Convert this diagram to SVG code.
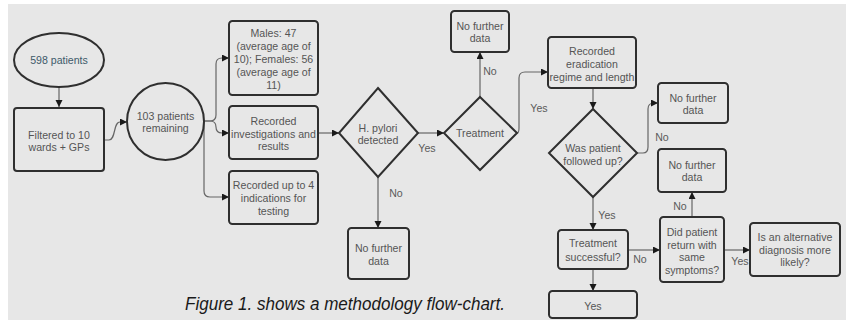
<svg xmlns="http://www.w3.org/2000/svg" width="849" height="320" viewBox="0 0 849 320">
<defs>
<style>
.bg{fill:#e7e7e7}
.box{fill:none;stroke:#2f2f2f;stroke-width:2}
.t{font-family:"Liberation Sans",Arial,sans-serif;font-size:10.6px;fill:#555;text-anchor:middle}
.lbl{font-family:"Liberation Sans",Arial,sans-serif;font-size:10.6px;fill:#5a5a5a;text-anchor:middle}
.c{fill:none;stroke:#666;stroke-width:1.2}
.cap{font-family:"Liberation Sans",Arial,sans-serif;font-style:italic;font-size:19px;fill:#1a1a1a}
</style>
<marker id="ah" markerUnits="userSpaceOnUse" markerWidth="8" markerHeight="8" refX="7" refY="3.5" orient="auto">
<path d="M0,0 L7,3.5 L0,7 z" fill="#1a1a1a"/>
</marker>
</defs>
<rect x="0" y="0" width="849" height="320" fill="#ffffff"/>
<rect class="bg" x="8" y="4" width="838" height="316"/>

<g id="connectors">
<path class="c" d="M59,87 V107" marker-end="url(#ah)"/>
<path class="c" d="M104,140 H109 C116,140 113,122 120,122 H127" marker-end="url(#ah)"/>
<path class="c" d="M204,121 H210 Q216,121 216,115 V64 Q216,58 222,58 H229" marker-end="url(#ah)"/>
<path class="c" d="M204,121 H210 Q216,121 216,127 Q216,133 222,133 H229" marker-end="url(#ah)"/>
<path class="c" d="M204,121 V191 Q204,197 210,197 H229" marker-end="url(#ah)"/>
<path class="c" d="M318,133 H339" marker-end="url(#ah)"/>
<path class="c" d="M418,133 H444" marker-end="url(#ah)"/>
<path class="c" d="M378,177 V228" marker-end="url(#ah)"/>
<path class="c" d="M480,97 V52" marker-end="url(#ah)"/>
<path class="c" d="M517,133 Q519,133 519,128 V78 Q519,72 525,72 H548" marker-end="url(#ah)"/>
<path class="c" d="M593,88 V109" marker-end="url(#ah)"/>
<path class="c" d="M637,153 H643 Q648,153 648,147 V109 Q648,103 654,103 H658" marker-end="url(#ah)"/>
<path class="c" d="M593,197 V230" marker-end="url(#ah)"/>
<path class="c" d="M628,250 H660" marker-end="url(#ah)"/>
<path class="c" d="M692,217 V192" marker-end="url(#ah)"/>
<path class="c" d="M593,269 V291" marker-end="url(#ah)"/>
<path class="c" d="M724,250 H750" marker-end="url(#ah)"/>
<text class="lbl" x="427" y="152">Yes</text>
<text class="lbl" x="396" y="197">No</text>
<text class="lbl" x="490" y="75">No</text>
<text class="lbl" x="539" y="112">Yes</text>
<text class="lbl" x="662" y="141">No</text>
<text class="lbl" x="607" y="219">Yes</text>
<text class="lbl" x="680" y="210">No</text>
<text class="lbl" x="640" y="263">No</text>
<text class="lbl" x="740" y="265">Yes</text>
</g>

<g id="n-598">
<ellipse class="box" cx="59" cy="60" rx="45" ry="27"/>
<text class="t" x="59" y="64" style="fill:#3e5a6a">598 patients</text>
</g>
<g id="n-filtered">
<rect class="box" x="14" y="108" width="90" height="63" rx="3"/>
<text class="t" x="59" y="139">Filtered to 10</text>
<text class="t" x="59" y="151">wards + GPs</text>
</g>
<g id="n-103">
<circle class="box" cx="165.5" cy="121.5" r="38.5"/>
<text class="t" x="165.5" y="120">103 patients</text>
<text class="t" x="165.5" y="132">remaining</text>
</g>
<g id="n-males">
<rect class="box" x="229" y="21" width="89" height="74" rx="3.5"/>
<text class="t" x="273.5" y="37">Males: 47</text>
<text class="t" x="273.5" y="50">(average age of</text>
<text class="t" x="273.5" y="63">10); Females: 56</text>
<text class="t" x="273.5" y="76">(average age of</text>
<text class="t" x="273.5" y="89">11)</text>
</g>
<g id="n-investigations">
<rect class="box" x="229" y="106" width="89" height="53" rx="3.5"/>
<text class="t" x="273.5" y="125">Recorded</text>
<text class="t" x="273.5" y="137.5">investigations and</text>
<text class="t" x="273.5" y="150">results</text>
</g>
<g id="n-indications">
<rect class="box" x="229" y="171" width="89" height="53" rx="3.5"/>
<text class="t" x="273.5" y="189">Recorded up to 4</text>
<text class="t" x="273.5" y="202">indications for</text>
<text class="t" x="273.5" y="215">testing</text>
</g>
<g id="n-hpylori">
<polygon class="box" points="378,88 418,133 378,177 339,133"/>
<text class="t" x="378" y="131.5">H. pylori</text>
<text class="t" x="378" y="144">detected</text>
</g>
<g id="n-nofurther-bottom">
<rect class="box" x="348" y="228" width="61" height="51" rx="3.5"/>
<text class="t" x="378.5" y="252">No further</text>
<text class="t" x="378.5" y="265">data</text>
</g>
<g id="n-treatment">
<polygon class="box" points="480,97 517,133 480,170 444,133"/>
<text class="t" x="480" y="137">Treatment</text>
</g>
<g id="n-nofurther-top">
<rect class="box" x="451" y="11" width="58" height="41" rx="3.5"/>
<text class="t" x="480" y="29.5">No further</text>
<text class="t" x="480" y="41.5">data</text>
</g>
<g id="n-eradication">
<rect class="box" x="548" y="37" width="88" height="51" rx="3.5"/>
<text class="t" x="592" y="55">Recorded</text>
<text class="t" x="592" y="68">eradication</text>
<text class="t" x="592" y="81">regime and length</text>
</g>
<g id="n-followed">
<polygon class="box" points="593,109 637,153 593,197 549,153"/>
<text class="t" x="593" y="151.5">Was patient</text>
<text class="t" x="593" y="164.5">followed up?</text>
</g>
<g id="n-nofurther-right1">
<rect class="box" x="658" y="83" width="70" height="40" rx="3.5"/>
<text class="t" x="693" y="101.5">No further</text>
<text class="t" x="693" y="114">data</text>
</g>
<g id="n-nofurther-right2">
<rect class="box" x="658" y="149" width="68" height="43" rx="3.5"/>
<text class="t" x="692" y="168.5">No further</text>
<text class="t" x="692" y="181">data</text>
</g>
<g id="n-successful">
<rect class="box" x="558" y="230" width="70" height="39" rx="3.5"/>
<text class="t" x="593" y="247">Treatment</text>
<text class="t" x="593" y="261">successful?</text>
</g>
<g id="n-return">
<rect class="box" x="660" y="217" width="64" height="65" rx="3.5"/>
<text class="t" x="692" y="236">Did patient</text>
<text class="t" x="692" y="248.5">return with</text>
<text class="t" x="692" y="261">same</text>
<text class="t" x="692" y="273.5">symptoms?</text>
</g>
<g id="n-yes">
<rect class="box" x="549" y="291" width="88" height="27" rx="3.5"/>
<text class="t" x="593" y="310">Yes</text>
</g>
<g id="n-alternative">
<rect class="box" x="750" y="223" width="90" height="53" rx="3.5"/>
<text class="t" x="795" y="241">Is an alternative</text>
<text class="t" x="795" y="254">diagnosis more</text>
<text class="t" x="795" y="266">likely?</text>
</g>
<text class="cap" x="185" y="310" textLength="320" lengthAdjust="spacingAndGlyphs">Figure 1. shows a methodology flow-chart.</text>
</svg>
